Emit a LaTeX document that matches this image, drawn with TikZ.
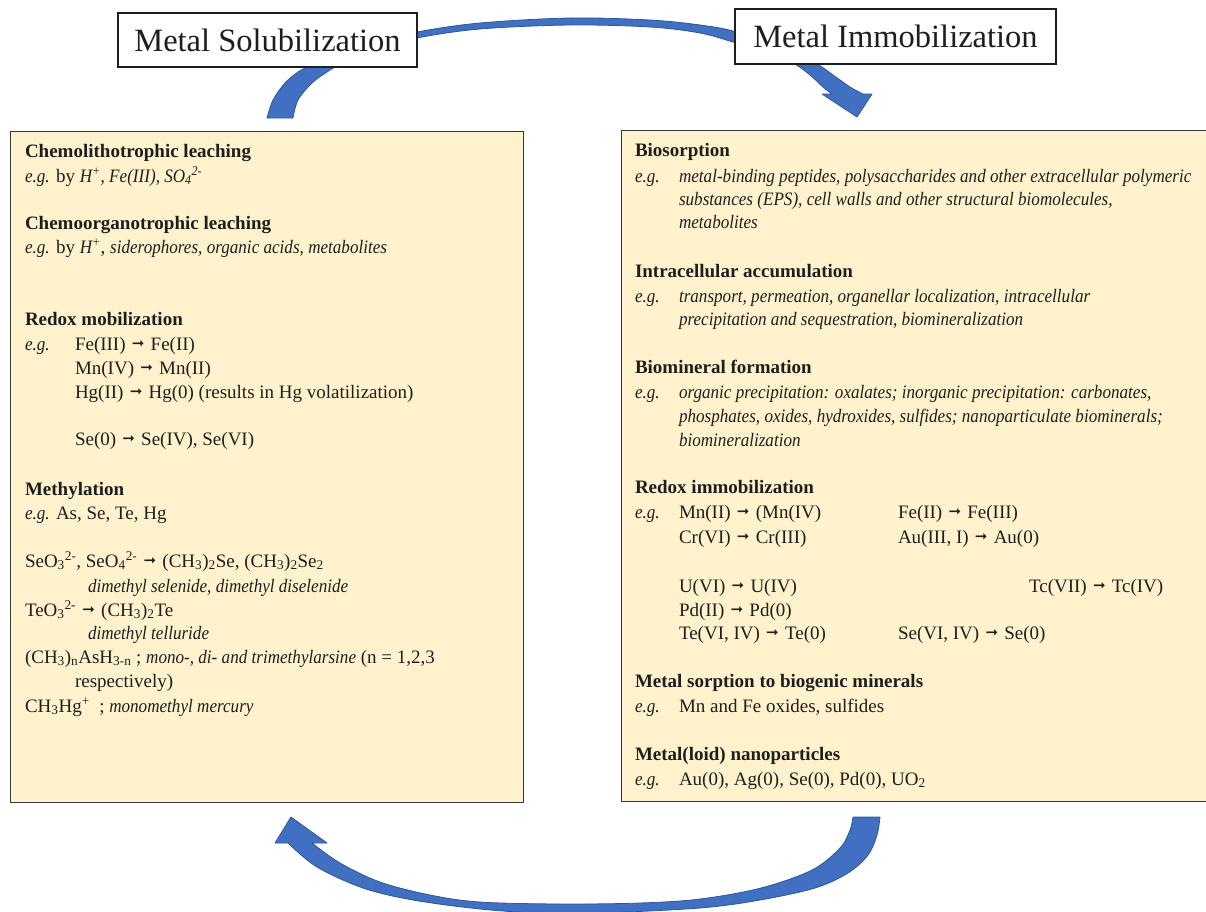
\documentclass[tikz,border=0pt]{standalone}
\usepackage{fontspec}
\setmainfont{Liberation Serif}[ItalicFeatures={FakeStretch=0.9}]
\newfontfamily\arrowfont{DejaVu Sans}
% short heavy reaction arrow
\newcommand{\rxn}{\hspace{1.5pt}\raisebox{0.2ex}{\arrowfont\fontsize{15}{15}\selectfont ➞}\hspace{1.5pt}}
\definecolor{panelfill}{HTML}{FFF2CC}
\definecolor{arrowblue}{HTML}{4170C2}
\definecolor{arrowedge}{HTML}{2E569C}
\definecolor{ink}{HTML}{1E1E1E}
\begin{document}
\begin{tikzpicture}[x=1pt,y=-1pt,
  panel/.style={draw=ink!90, line width=1.4pt, fill=panelfill, inner sep=0pt, anchor=north west},
  titlebox/.style={draw=ink, line width=1.2pt, fill=white, inner sep=0pt, font=\fontsize{32.5}{36}\selectfont, text=ink},
  bigarrow/.style={fill=arrowblue, draw=arrowedge, line width=0.8pt, line join=round},
  txt/.style={anchor=base west, inner sep=0pt, outer sep=0pt, font=\fontsize{19}{23}\selectfont, text=ink},
  hd/.style={txt, font=\fontsize{19}{23}\selectfont\bfseries}]
\useasboundingbox (0,0) rectangle (1206,911);
\clip (0,0) rectangle (1206,911);

% curved arrow from solubilization over the top to immobilization
\path[bigarrow] plot[smooth, tension=0.55] coordinates {(267,118) (273,100) (285,83) (298,72) (310,66) (360,45) (417,32) (480,23) (570,18) (650,20) (700,25) (733,31) (775,45) (815,63) (833,75) (850,87) (863,94)}
  -- (872,94) -- (857,117) -- (822,94)
  -- plot[smooth, tension=0.55] coordinates {(832,94) (823,87) (810,75) (793,63) (765,51) (733,42) (700,33) (650,27) (570,25) (480,29) (417,38) (380,49) (338,66) (327,72) (312,83) (298,100) (293,118)}
  -- cycle;

% curved arrow underneath, back from immobilization to solubilization
\path[bigarrow] plot[smooth, tension=0.55] coordinates {(880,817) (877,835) (868,855) (848,873) (815,888) (760,900) (700,908) (600,913) (540,913) (480,909) (413,900) (363,888) (317,867) (288,843)}
  -- (275,843) -- (291,817) -- (327,843)
  -- plot[smooth, tension=0.55] coordinates {(312,843) (340,863) (380,882) (430,895) (480,902) (560,904) (640,903) (700,899) (761,888) (812,870) (840,848) (850,830) (853,817)}
  -- cycle;

% title boxes
\node[titlebox, minimum width=299pt, minimum height=54pt] (sol) at (267.5,40) {Metal Solubilization};
\node[titlebox, minimum width=321pt, minimum height=55pt] (imm) at (895.5,36.5) {Metal Immobilization};

% content panels
\node[panel, minimum width=513pt, minimum height=671pt] (lpanel) at (10,131) {};
\node[panel, minimum width=600pt, minimum height=671pt] (rpanel) at (621,130) {};

% ---- solubilization processes ----
\node[hd]  (l1)  at (25,157) {Chemolithotrophic leaching};
\node[txt] (l2)  at (25,182) {\textit{e.g.} by \textit{H\textsuperscript{+}, Fe(III), SO\textsubscript{4}\textsuperscript{2-}}};
\node[hd]  (l3)  at (25,229) {Chemoorganotrophic leaching};
\node[txt] (l4)  at (25,253) {\textit{e.g.} by \textit{H\textsuperscript{+}}, \textit{siderophores, organic acids, metabolites}};
\node[hd]  (l5)  at (25,325) {Redox mobilization};
\node[txt] (l6)  at (25,350) {\textit{e.g.}};
\node[txt] (l6b) at (75,350) {Fe(III) \rxn{} Fe(II)};
\node[txt] (l7)  at (75,374) {Mn(IV) \rxn{} Mn(II)};
\node[txt] (l8)  at (75,398) {Hg(II) \rxn{} Hg(0) (results in Hg volatilization)};
\node[txt] (l9)  at (75,445) {Se(0) \rxn{} Se(IV), Se(VI)};
\node[hd]  (l10) at (25,495) {Methylation};
\node[txt] (l11) at (25,519) {\textit{e.g.} As, Se, Te, Hg};
\node[txt] (l12) at (25,567) {SeO\textsubscript{3}\textsuperscript{2-}, SeO\textsubscript{4}\textsuperscript{2-} \rxn{} (CH\textsubscript{3})\textsubscript{2}Se, (CH\textsubscript{3})\textsubscript{2}Se\textsubscript{2}};
\node[txt] (l13) at (88,592) {\textit{dimethyl selenide, dimethyl diselenide}};
\node[txt] (l14) at (25,616) {TeO\textsubscript{3}\textsuperscript{2-} \rxn{} (CH\textsubscript{3})\textsubscript{2}Te};
\node[txt] (l15) at (88,639) {\textit{dimethyl telluride}};
\node[txt] (l16) at (25,663) {(CH\textsubscript{3})\textsubscript{n}AsH\textsubscript{3-n} ; \textit{mono-, di- and trimethylarsine} (n = 1,2,3};
\node[txt] (l17) at (75,687) {respectively)};
\node[txt] (l18) at (25,712) {CH\textsubscript{3}Hg\textsuperscript{+}\ \ ; \textit{monomethyl mercury}};

% ---- immobilization processes ----
\node[hd]  (r1)  at (635,156) {Biosorption};
\node[txt] (r2)  at (635,182) {\textit{e.g.}};
\node[txt] (r2b) at (679,182) {\textit{metal-binding peptides, polysaccharides and other extracellular polymeric}};
\node[txt] (r3)  at (679,205) {\textit{substances (EPS), cell walls and other structural biomolecules,}};
\node[txt] (r4)  at (679,228) {\textit{metabolites}};
\node[hd]  (r5)  at (635,277) {Intracellular accumulation};
\node[txt] (r6)  at (635,302) {\textit{e.g.}};
\node[txt] (r6b) at (679,302) {\textit{transport, permeation, organellar localization, intracellular}};
\node[txt] (r7)  at (679,325) {\textit{precipitation and sequestration, biomineralization}};
\node[hd]  (r8)  at (635,373) {Biomineral formation};
\node[txt] (r9)  at (635,398) {\textit{e.g.}};
\node[txt] (r9b) at (679,398) {\textit{organic precipitation: oxalates; inorganic precipitation: carbonates,}};
\node[txt] (r10) at (679,422) {\textit{phosphates, oxides, hydroxides, sulfides; nanoparticulate biominerals;}};
\node[txt] (r11) at (679,446) {\textit{biomineralization}};
\node[hd]  (r12) at (635,493) {Redox immobilization};
\node[txt] (r13) at (635,518) {\textit{e.g.}};
\node[txt] (r13b) at (679,518) {Mn(II) \rxn{} (Mn(IV)};
\node[txt] (r13c) at (898,518) {Fe(II) \rxn{} Fe(III)};
\node[txt] (r14) at (679,543) {Cr(VI) \rxn{} Cr(III)};
\node[txt] (r14c) at (898,543) {Au(III, I) \rxn{} Au(0)};
\node[txt] (r15) at (679,592) {U(VI) \rxn{} U(IV)};
\node[txt] (r15c) at (1029,592) {Tc(VII) \rxn{} Tc(IV)};
\node[txt] (r16) at (679,616) {Pd(II) \rxn{} Pd(0)};
\node[txt] (r17) at (679,639) {Te(VI, IV) \rxn{} Te(0)};
\node[txt] (r17c) at (898,639) {Se(VI, IV) \rxn{} Se(0)};
\node[hd]  (r18) at (635,687) {Metal sorption to biogenic minerals};
\node[txt] (r19) at (635,712) {\textit{e.g.}};
\node[txt] (r19b) at (679,712) {Mn and Fe oxides, sulfides};
\node[hd]  (r20) at (635,760) {Metal(loid) nanoparticles};
\node[txt] (r21) at (635,785) {\textit{e.g.}};
\node[txt] (r21b) at (679,785) {Au(0), Ag(0), Se(0), Pd(0), UO\textsubscript{2}};
\end{tikzpicture}
\end{document}
